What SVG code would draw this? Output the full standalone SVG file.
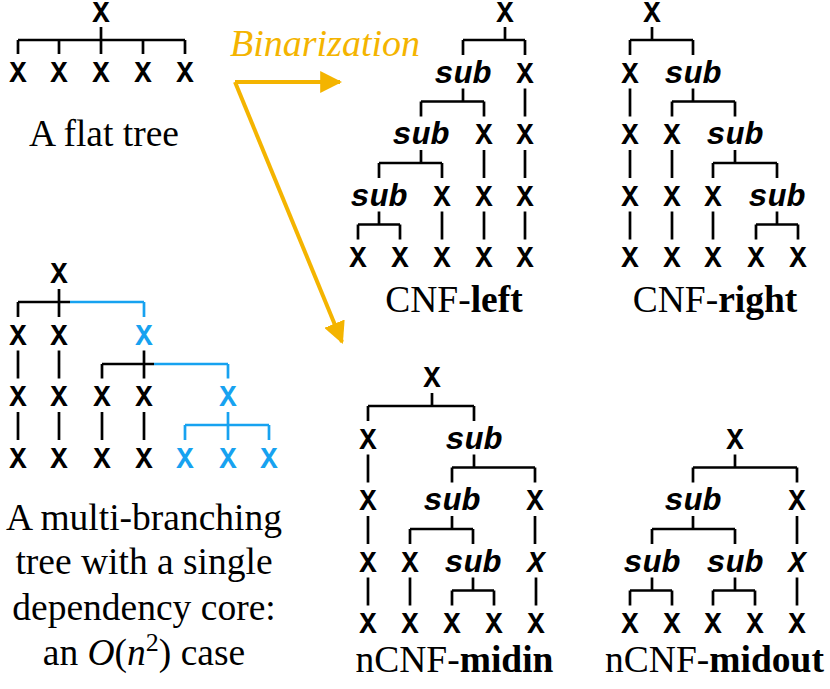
<svg xmlns="http://www.w3.org/2000/svg" width="830" height="689" viewBox="0 0 830 689">
<defs>
<style>
.n{font-family:"Liberation Mono","DejaVu Sans Mono",monospace;font-weight:bold;font-size:29px;text-anchor:middle;fill:#000}
.s{font-style:italic;font-size:32px}
.bl{fill:#17a2f0}
.e{stroke:#000;stroke-width:2.7;fill:none}
.eb{stroke:#17a2f0;stroke-width:2.7;fill:none}
.lab{font-family:"Liberation Serif","Times New Roman",serif;font-size:37.5px;text-anchor:middle;fill:#000}
.g{stroke:#f4b400;stroke-width:4;fill:none}
</style>
<marker id="ah" viewBox="0 0 10 10" refX="9" refY="5" markerWidth="5.5" markerHeight="5.5" markerUnits="strokeWidth" orient="auto">
<path d="M0,0 L10,5 L0,10 z" fill="#f4b400"/>
</marker>
</defs>
<rect width="830" height="689" fill="#fff"/>

<g id="connectors">
<path class="e" d="M101,27V54 M18,40H185 M18,40V54 M59,40V54 M143,40V54 M185,40V54"/>
<path class="e" d="M505,27V40 M463,40H525 M463,40V55 M525,40V55
M463,88.5V101.5 M421,101.5H484 M421,101.5V116.5 M484,101.5V116.5 M525,88.5V116.5
M421,150V163 M379,163H442 M379,163V178 M442,163V178 M484,150V178 M525,150V178
M379,211.5V224.5 M358,224.5H400 M358,224.5V239.5 M400,224.5V239.5 M442,211.5V239.5 M484,211.5V239.5 M525,211.5V239.5"/>
<path class="e" d="M652,27V40 M630,40H693 M630,40V55 M693,40V55
M630,88.5V116.5 M693,88.5V101.5 M672,101.5H735 M672,101.5V116.5 M735,101.5V116.5
M630,150V178 M672,150V178 M735,150V163 M713,163H777 M713,163V178 M777,163V178
M630,211.5V239.5 M672,211.5V239.5 M713,211.5V239.5 M777,211.5V224.5 M756,224.5H798 M756,224.5V239.5 M798,224.5V239.5"/>
<path class="e" d="M59,289V317 M18,302H70 M18,302V317
M18,350.5V378.5 M59,350.5V378.5 M144,350.5V378.5 M102,364H154 M102,364V378.5
M18,412V440 M59,412V440 M102,412V440 M144,412V440"/>
<path class="eb" d="M70,302H144 M144,302V317 M154,364H228 M228,364V378.5
M228,412V440 M185,425H269 M185,425V440 M269,425V440"/>
<path class="e" d="M432,393V406 M368,406H474 M368,406V421 M474,406V421
M368,454.5V482.5 M474,454.5V467.5 M452,467.5H535 M452,467.5V482.5 M535,467.5V482.5
M368,516V544 M452,516V529 M410,529H473 M410,529V544 M473,529V544 M535,516V544
M368,577.5V605.5 M410,577.5V605.5 M473,577.5V590.5 M452,590.5H494 M452,590.5V605.5 M494,590.5V605.5 M536,577.5V605.5"/>
<path class="e" d="M735,454.5V467.5 M693,467.5H797 M693,467.5V482.5 M797,467.5V482.5
M693,516V529 M652,529H735 M652,529V544 M735,529V544 M797,516V544
M652,577.5V590.5 M630,590.5H672 M630,590.5V605.5 M672,590.5V605.5
M735,577.5V590.5 M713,590.5H755 M713,590.5V605.5 M755,590.5V605.5 M797,577.5V605.5"/>
<path class="g" d="M235,82H340" marker-end="url(#ah)"/>
<path class="g" d="M235,82L342,342" marker-end="url(#ah)"/>
</g>

<g id="flat-tree">
<text class="n" x="101" y="22">X</text>
<text class="n" x="18" y="82">X</text><text class="n" x="59" y="82">X</text><text class="n" x="101" y="82">X</text><text class="n" x="143" y="82">X</text><text class="n" x="185" y="82">X</text>
<text class="lab" x="104" y="146">A flat tree</text>
</g>

<g id="binarization">
<text x="325" y="56" font-family="Liberation Serif, Times New Roman, serif" font-style="italic" font-size="38" text-anchor="middle" fill="#f4b400">Binarization</text>
</g>

<g id="cnf-left">
<text class="n" x="505" y="22">X</text>
<text class="n s" x="463" y="82.5">sub</text><text class="n" x="525" y="82.5">X</text>
<text class="n s" x="421" y="144">sub</text><text class="n" x="484" y="144">X</text><text class="n" x="525" y="144">X</text>
<text class="n s" x="379" y="205.5">sub</text><text class="n" x="442" y="205.5">X</text><text class="n" x="484" y="205.5">X</text><text class="n" x="525" y="205.5">X</text>
<text class="n" x="358" y="267">X</text><text class="n" x="400" y="267">X</text><text class="n" x="442" y="267">X</text><text class="n" x="484" y="267">X</text><text class="n" x="525" y="267">X</text>
<text class="lab" x="454" y="312">CNF-<tspan font-weight="bold">left</tspan></text>
</g>

<g id="cnf-right">
<text class="n" x="652" y="22">X</text>
<text class="n" x="630" y="82.5">X</text><text class="n s" x="693" y="82.5">sub</text>
<text class="n" x="630" y="144">X</text><text class="n" x="672" y="144">X</text><text class="n s" x="735" y="144">sub</text>
<text class="n" x="630" y="205.5">X</text><text class="n" x="672" y="205.5">X</text><text class="n" x="713" y="205.5">X</text><text class="n s" x="777" y="205.5">sub</text>
<text class="n" x="630" y="267">X</text><text class="n" x="672" y="267">X</text><text class="n" x="713" y="267">X</text><text class="n" x="756" y="267">X</text><text class="n" x="798" y="267">X</text>
<text class="lab" x="715" y="312">CNF-<tspan font-weight="bold">right</tspan></text>
</g>

<g id="multi-branching">
<text class="n" x="59" y="283">X</text>
<text class="n" x="18" y="344.5">X</text><text class="n" x="59" y="344.5">X</text><text class="n bl" x="144" y="344.5">X</text>
<text class="n" x="18" y="406">X</text><text class="n" x="59" y="406">X</text><text class="n" x="102" y="406">X</text><text class="n" x="144" y="406">X</text><text class="n bl" x="228" y="406">X</text>
<text class="n" x="18" y="467.5">X</text><text class="n" x="59" y="467.5">X</text><text class="n" x="102" y="467.5">X</text><text class="n" x="144" y="467.5">X</text><text class="n bl" x="185" y="467.5">X</text><text class="n bl" x="228" y="467.5">X</text><text class="n bl" x="269" y="467.5">X</text>
<text class="lab" x="144" y="530">A multi-branching</text>
<text class="lab" x="144" y="574">tree with a single</text>
<text class="lab" x="144" y="620">dependency core:</text>
<text class="lab" x="144" y="665">an <tspan font-style="italic">O</tspan>(<tspan font-style="italic">n</tspan><tspan font-size="26" dy="-14">2</tspan><tspan dy="14">) case</tspan></text>
</g>

<g id="ncnf-midin">
<text class="n" x="432" y="387">X</text>
<text class="n" x="368" y="448.5">X</text><text class="n s" x="474" y="448.5">sub</text>
<text class="n" x="368" y="510">X</text><text class="n s" x="452" y="510">sub</text><text class="n" x="535" y="510">X</text>
<text class="n" x="368" y="571.5">X</text><text class="n" x="410" y="571.5">X</text><text class="n s" x="473" y="571.5">sub</text><text class="n" x="536" y="571.5" font-style="italic">X</text>
<text class="n" x="368" y="633">X</text><text class="n" x="410" y="633">X</text><text class="n" x="452" y="633">X</text><text class="n" x="494" y="633">X</text><text class="n" x="536" y="633">X</text>
<text class="lab" x="454.5" y="672">nCNF-<tspan font-weight="bold">midin</tspan></text>
</g>

<g id="ncnf-midout">
<text class="n" x="735" y="448.5">X</text>
<text class="n s" x="693" y="510">sub</text><text class="n" x="797" y="510">X</text>
<text class="n s" x="652" y="571.5">sub</text><text class="n s" x="735" y="571.5">sub</text><text class="n" x="797" y="571.5" font-style="italic">X</text>
<text class="n" x="630" y="633">X</text><text class="n" x="672" y="633">X</text><text class="n" x="713" y="633">X</text><text class="n" x="755" y="633">X</text><text class="n" x="797" y="633">X</text>
<text class="lab" x="714.5" y="672">nCNF-<tspan font-weight="bold">midout</tspan></text>
</g>
</svg>
